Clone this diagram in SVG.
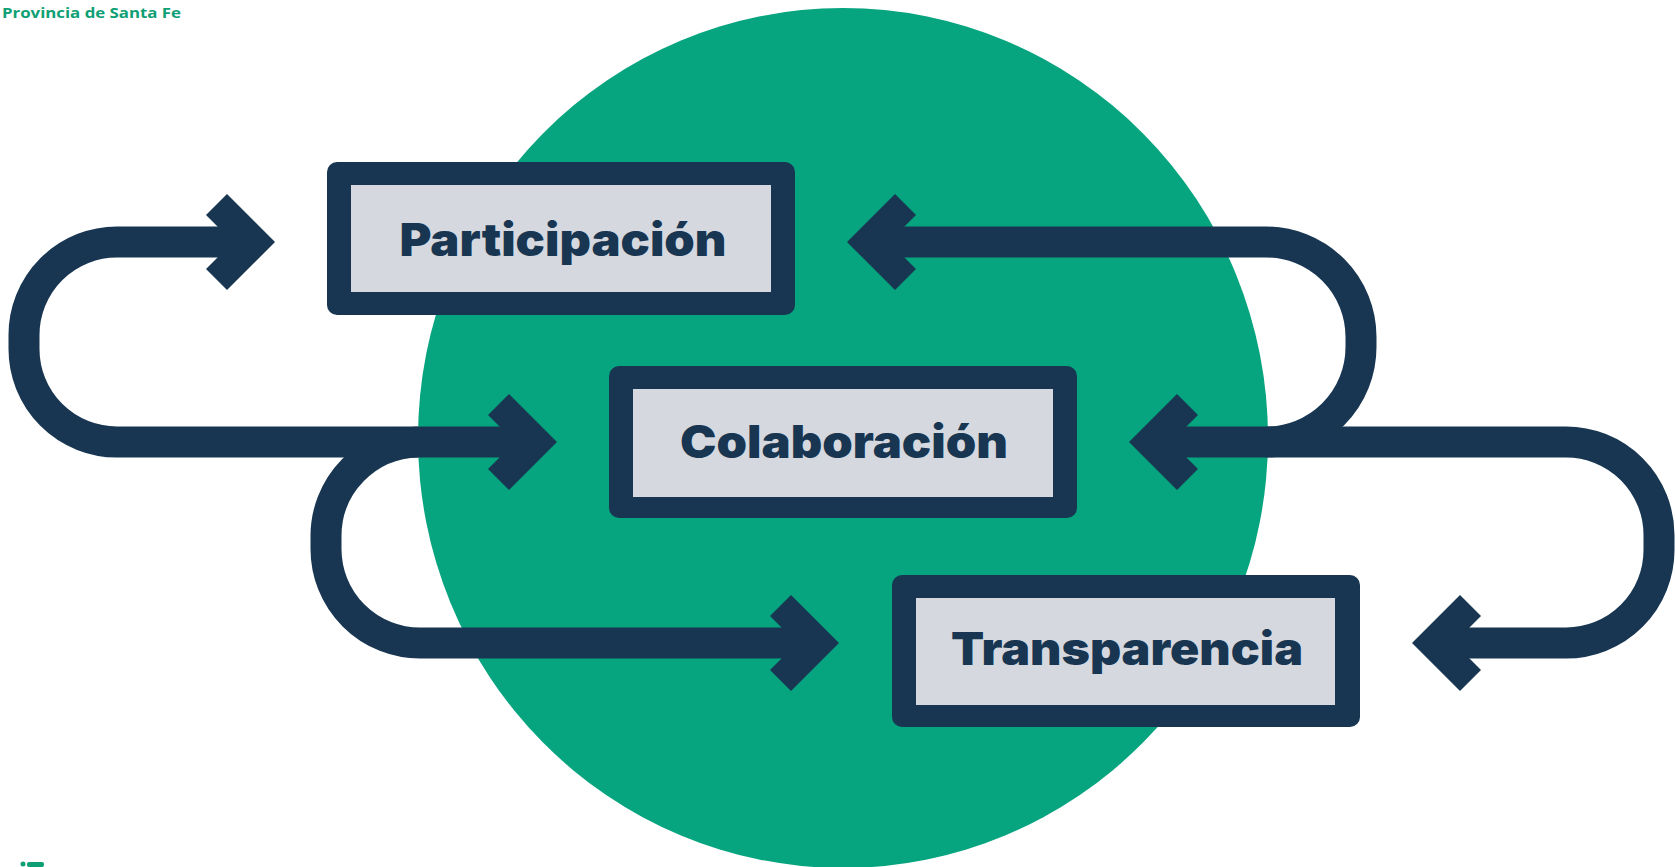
<svg xmlns="http://www.w3.org/2000/svg" xmlns:xlink="http://www.w3.org/1999/xlink" width="1675" height="867" viewBox="0 0 1675 867">
<style>
.bg{fill:#ffffff}
.disc{fill:#06A47F}
.flow{fill:none;stroke:#183651;stroke-width:31;stroke-linecap:butt;stroke-linejoin:round}
.head{fill:#183651}
.frame{fill:#183651}
.panel{fill:#D5D9DF}
.label{font-family:Inter,Lato,"Open Sans","Liberation Sans",sans-serif;font-weight:900;font-size:45px;fill:#183651;text-anchor:middle}
.brand{font-family:"Open Sans","Liberation Sans",sans-serif;font-weight:700;font-size:14px;fill:#0E9F75}
.mark{fill:#0E9F75}
</style>
<defs>
<path id="ah" d="M0 0 L-48 -48 L-69 -27 L-42 0 L-69 27 L-48 48 Z"/>
</defs>
<rect class="bg" x="0" y="0" width="1675" height="867"/>
<ellipse class="disc" cx="843" cy="438" rx="425" ry="430"/>
<text class="brand" x="2" y="18" textLength="179" lengthAdjust="spacingAndGlyphs">Provincia de Santa Fe</text>
<circle class="mark" cx="23" cy="864" r="2.5"/>
<rect class="mark" x="27" y="862" width="17" height="5" rx="2"/>
<g id="connectors">
<path class="flow" d="M237 242 H117 A93 93 0 0 0 24 335 V349 A93 93 0 0 0 117 442 H519"/>
<path class="flow" d="M418 442 A94 94 0 0 0 326 536 V549 A94 94 0 0 0 420 643 H801"/>
<path class="flow" d="M885 242 H1266 A95 95 0 0 1 1361 337 V347 A95 95 0 0 1 1266 442"/>
<path class="flow" d="M1167 442 H1566 A93 93 0 0 1 1659 535 V550 A93 93 0 0 1 1566 643 H1450"/>
<use xlink:href="#ah" class="head" transform="translate(275,242)"/>
<use xlink:href="#ah" class="head" transform="translate(557,442)"/>
<use xlink:href="#ah" class="head" transform="translate(839,643)"/>
<use xlink:href="#ah" class="head" transform="translate(847,242) scale(-1,1)"/>
<use xlink:href="#ah" class="head" transform="translate(1129,442) scale(-1,1)"/>
<use xlink:href="#ah" class="head" transform="translate(1412,643) scale(-1,1)"/>
</g>
<g id="participacion">
<rect class="frame" x="327" y="162" width="468" height="153" rx="10"/>
<rect class="panel" x="351" y="185" width="420" height="107"/>
<text class="label" x="563" y="256" textLength="327" lengthAdjust="spacingAndGlyphs">Participación</text>
</g>
<g id="colaboracion">
<rect class="frame" x="609" y="366" width="468" height="152" rx="10"/>
<rect class="panel" x="633" y="389" width="420" height="108"/>
<text class="label" x="844" y="458" textLength="328" lengthAdjust="spacingAndGlyphs">Colaboración</text>
</g>
<g id="transparencia">
<rect class="frame" x="892" y="575" width="468" height="152" rx="10"/>
<rect class="panel" x="916" y="598" width="419" height="107"/>
<text class="label" x="1127" y="665" textLength="352" lengthAdjust="spacingAndGlyphs">Transparencia</text>
</g>
</svg>
